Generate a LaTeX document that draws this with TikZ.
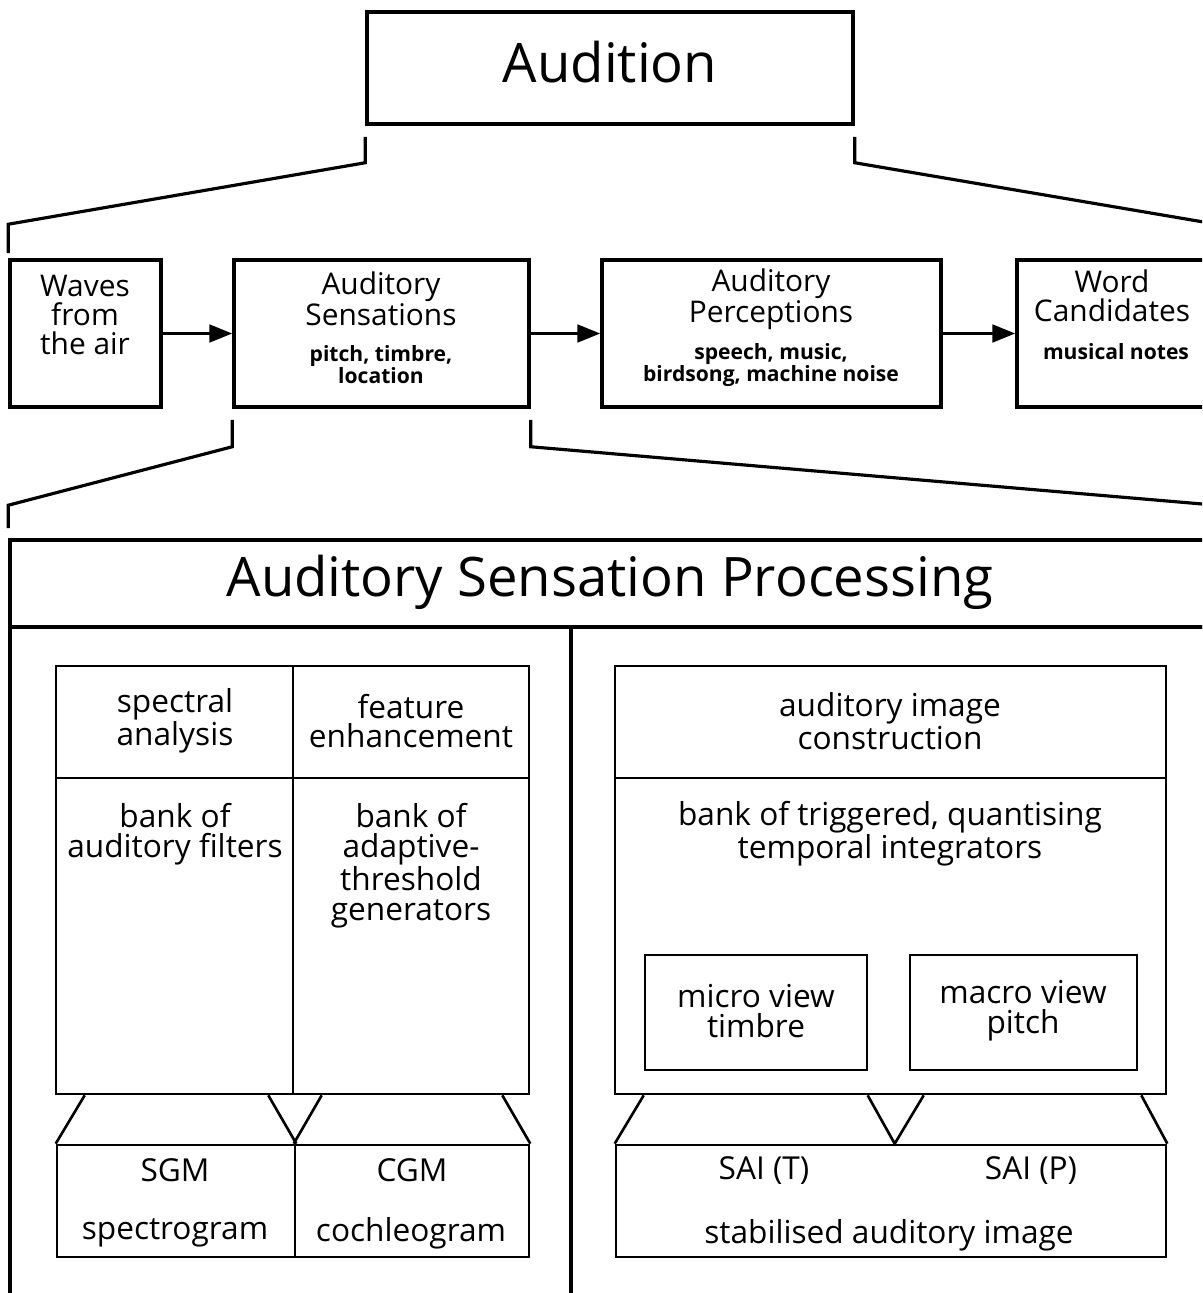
\documentclass[tikz,border=0pt]{standalone}
\usepackage{fontspec}
\setmainfont{Open Sans}
\usetikzlibrary{positioning, calc, fit, arrows.meta}
\tikzset{
  outbox/.style={draw, line width=2pt, inner sep=0pt},
  inbox/.style={draw, line width=1.5pt, inner sep=0pt},
  biglbl/.style={font=\fontsize{31}{36}\selectfont},
  rowlbl/.style={font=\fontsize{17}{16.5}\selectfont, align=center, inner sep=0pt},
  sublbl/.style={font=\bfseries\fontsize{12}{12.5}\selectfont, align=center, inner sep=0pt},
  celllbl/.style={font=\fontsize{18}{17}\selectfont, align=center, inner sep=0pt},
  flowarrow/.style={line width=1.8pt, -{Triangle[length=13pt, width=10pt]}},
  bracketline/.style={line width=1.8pt, line join=miter},
  funnel/.style={line width=1.5pt}
}
\begin{document}
\begin{tikzpicture}[x=0.02cm, y=-0.02cm]
  \useasboundingbox (0,0) rectangle (1202,1293);
  \clip (0,0) rectangle (1202,1293);

  % top
  \node[outbox, fit={(367,12) (853,124)}] (aud) {};
  \node[biglbl] (audtxt) at (610,62) {Audition};

  % first row
  \node[outbox, fit={(10,260) (161,407)}] (wav) {};
  \node[outbox, fit={(234,260) (529,407)}] (sen) {};
  \node[outbox, fit={(602,260) (941,407)}] (per) {};
  \node[outbox, fit={(1017,260) (1215,407)}] (wrd) {};
  \node[rowlbl] (wavtxt) at (85,315) {Waves\\from\\the air};
  \node[rowlbl] (sentxt) at (381,299) {Auditory\\Sensations};
  \node[sublbl] (sensub) at (381,365) {pitch, timbre,\\location};
  \node[rowlbl] (pertxt) at (771,299) {Auditory\\Perceptions};
  \node[sublbl] (persub) at (771,365) {speech, music,\\birdsong, machine noise};
  \node[rowlbl] (wrdtxt) at (1112,296) {Word\\Candidates};
  \node[sublbl] (wrdsub) at (1116,352) {musical notes};
  \draw[flowarrow] (wav) -- (sen);
  \draw[flowarrow] (sen) -- (per);
  \draw[flowarrow] (per) -- (wrd);

  \draw[bracketline] ($(aud.south west)+(0,11)$) -- ++(0,26) -- ($(wav.north west)+(0,-34)$) -- ++(0,29);
  \draw[bracketline] ($(aud.south east)+(0,11)$) -- ++(0,26) -- ($(wrd.north east)+(0,-34)$) -- ++(0,29);

  % processing box
  \node[outbox, fit={(10,540) (1215,627)}] (asp) {};
  \node[biglbl] (asptxt) at (610,582) {Auditory Sensation Processing};
  \node[outbox, fit={(10,627) (1215,1320)}] (body) {};
  \draw[line width=1.8pt] (571,627) -- (571,1320);

  \draw[bracketline] ($(sen.south west)+(0,11)$) -- ++(0,27) -- ($(asp.north west)+(0,-33)$) -- ++(0,23);
  \draw[bracketline] ($(sen.south east)+(0,11)$) -- ++(0,27) -- ($(asp.north east)+(0,-33)$) -- ++(0,23);

  % left block
  \node[inbox, fit={(56,666) (293,778)}] (spa) {};
  \node[inbox, fit={(293,666) (529,778)}] (fen) {};
  \node[inbox, fit={(56,778) (293,1094)}] (baf) {};
  \node[inbox, fit={(293,778) (529,1094)}] (atg) {};
  \node[celllbl] (spatxt) at (175,721) {spectral\\analysis};
  \node[celllbl] (fentxt) at (411,721) {feature\\enhancement};
  \node[celllbl] (baftxt) at (175,834) {bank of\\auditory filters};
  \node[celllbl] (atgtxt) at (411,866) {bank of\\adaptive-\\threshold\\generators};

  \node[inbox, fit={(57,1145) (295,1257)}] (sgm) {};
  \node[inbox, fit={(295,1145) (529,1257)}] (cgm) {};
  \node[celllbl] (sgmtxt) at (175,1170) {SGM};
  \node[celllbl] (sgmsub) at (175,1233) {spectrogram};
  \node[celllbl] (cgmtxt) at (412,1170) {CGM};
  \node[celllbl] (cgmsub) at (411,1233) {cochleogram};

  \draw[funnel] ($(baf.south west)+(30,0)$) -- (sgm.north west);
  \draw[funnel] ($(baf.south east)+(-26,0)$) -- (sgm.north east);
  \draw[funnel] ($(atg.south west)+(30,0)$) -- (cgm.north west);
  \draw[funnel] ($(atg.south east)+(-28,0)$) -- (cgm.north east);

  % right block
  \node[inbox, fit={(615,666) (1166,778)}] (aic) {};
  \node[inbox, fit={(615,778) (1166,1094)}] (btq) {};
  \node[celllbl] (aictxt) at (890,721) {auditory image\\construction};
  \node[celllbl] (btqtxt) at (890,834) {bank of triggered, quantising\\temporal integrators};
  \node[inbox, fit={(645,955) (867,1070)}] (mic) {};
  \node[inbox, fit={(910,955) (1137,1070)}] (mac) {};
  \node[celllbl] (mictxt) at (756,1011) {micro view\\timbre};
  \node[celllbl] (mactxt) at (1023,1011) {macro view\\pitch};

  \node[inbox, fit={(616,1145) (1166,1257)}] (sai) {};
  \coordinate (saimid) at ($(sai.north west)+(280,0)$);
  \node[celllbl] (saitl) at (764,1171) {SAI (T)};
  \node[celllbl] (saipl) at (1031,1171) {SAI (P)};
  \node[celllbl] (saisub) at (889,1235) {stabilised auditory image};

  \draw[funnel] ($(btq.south west)+(30,0)$) -- (sai.north west);
  \draw[funnel] ($(btq.south west)+(254,0)$) -- (saimid) -- ($(btq.south west)+(310,0)$);
  \draw[funnel] ($(btq.south east)+(-26,0)$) -- (sai.north east);
\end{tikzpicture}
\end{document}
